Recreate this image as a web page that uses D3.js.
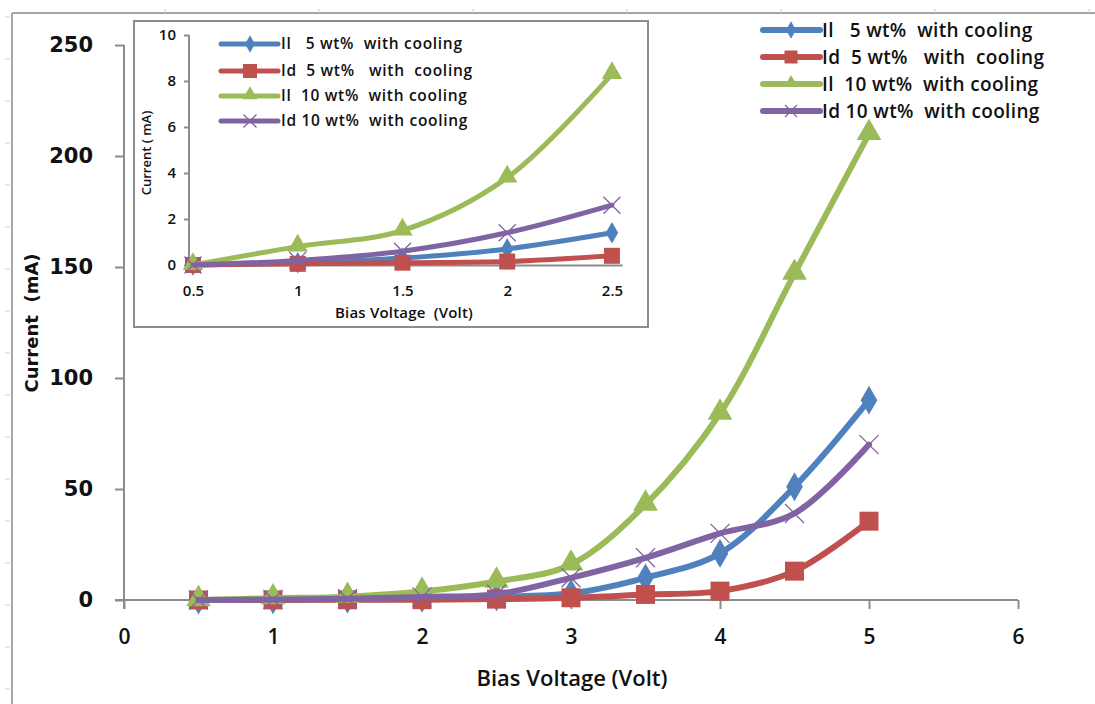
<!DOCTYPE html>
<html>
<head>
<meta charset="utf-8">
<script src="https://cdn.jsdelivr.net/npm/d3@7"></script>
<style>
  body { margin: 0; background: #fff; }
  svg { display: block; }
  text { white-space: pre; }
</style>
</head>
<body>
<svg id="chart" width="1095" height="704"></svg>
<script>
// bias voltage (Volt)
var voltage = [0.5, 1, 1.5, 2, 2.5, 3, 3.5, 4, 4.5, 5];
// currents in mA
var il5  = [0, 0.1, 0.3, 0.7, 1.4, 3, 10, 21, 51, 90];
var id5  = [0, 0.05, 0.1, 0.15, 0.4, 1, 2.5, 4, 13, 35.5];
var il10 = [0, 0.8, 1.5, 3.8, 8.3, 16, 43, 84, 147, 210];
var id10 = [0, 0.2, 0.6, 1.4, 2.6, 10, 19, 30, 39, 70];

var seriesNames = ["Il   5 wt%  with cooling", "Id  5 wt%   with  cooling", "Il  10 wt%  with cooling", "Id 10 wt%  with cooling"];
var seriesColors = ["#4f81bd", "#c0504d", "#9bbb59", "#8064a2"];
var seriesMarkers = ["diamond", "square", "triangle", "x"];
var seriesValues = [il5, id5, il10, id10];

var mainXTicks = [0, 1, 2, 3, 4, 5, 6];
var mainYTicks = [0, 50, 100, 150, 200, 250];
var insetXTicks = [0.5, 1, 1.5, 2, 2.5];
var insetYTicks = [0, 2, 4, 6, 8, 10];

var svg = d3.select("#chart");
var axisColor = "#8c8c8c";
var fmt = d3.format("~g");

// sheet frame
svg.append("line").attr("x1", 12).attr("x2", 1095).attr("y1", 13).attr("y2", 13)
    .attr("stroke", "#a6a6a6").attr("stroke-width", 2);
svg.append("line").attr("x1", 12).attr("x2", 12).attr("y1", 13).attr("y2", 704)
    .attr("stroke", "#a6a6a6").attr("stroke-width", 2);
d3.range(165, 1095, 154).forEach(function(x) {
  svg.append("line").attr("x1", x).attr("x2", x).attr("y1", 9).attr("y2", 13).attr("stroke", "#ccc");
});
d3.range(17, 704, 42).forEach(function(y) {
  svg.append("line").attr("x1", 5).attr("x2", 10).attr("y1", y).attr("y2", y).attr("stroke", "#ccc");
});

function marker(g, type, cx, cy, s, color) {
  if (type == "x") {
    g.append("path")
        .attr("d", "M" + (cx - s/2) + "," + (cy - s/2) + "L" + (cx + s/2) + "," + (cy + s/2) +
                   "M" + (cx - s/2) + "," + (cy + s/2) + "L" + (cx + s/2) + "," + (cy - s/2))
        .attr("stroke", color).attr("stroke-width", 1.3).attr("fill", "none");
    return;
  }
  var sym = type == "diamond" ? d3.symbolDiamond : type == "square" ? d3.symbolSquare : d3.symbolTriangle;
  var area = type == "square" ? s * s : type == "diamond" ? s * s * 0.6 : s * s * 0.5;
  g.append("path")
      .attr("d", d3.symbol().type(sym).size(area)())
      .attr("transform", "translate(" + cx + "," + cy + ")" + (type == "triangle" ? " translate(0,-1)" : ""))
      .attr("fill", color);
}

function drawSeries(g, x, y, n, lineW, markSize) {
  seriesValues.forEach(function(vals, i) {
    var pts = voltage.slice(0, n).map(function(v, j) { return [x(v), y(vals[j])]; });
    var line = d3.line().curve(d3.curveCatmullRom.alpha(0.5));
    g.append("path").attr("d", line(pts))
        .attr("fill", "none").attr("stroke", seriesColors[i])
        .attr("stroke-width", lineW).attr("stroke-linecap", "round");
    pts.forEach(function(p) {
      marker(g, seriesMarkers[i], p[0], p[1], markSize[i], seriesColors[i]);
    });
  });
}

// ---- main chart ----
var x = d3.scaleLinear().domain([0, 6]).range([124, 1018]);
var y = d3.scaleLinear().domain([0, 250]).range([600, 45]);

var xAxis = svg.append("g").attr("transform", "translate(0,600)")
    .call(d3.axisBottom(x).tickValues(mainXTicks).tickFormat(fmt).tickSize(9).tickSizeOuter(0).tickPadding(20));
xAxis.select(".domain").attr("d", "M115,0H1018");
var yAxis = svg.append("g").attr("transform", "translate(124,0)")
    .call(d3.axisLeft(y).tickValues(mainYTicks).tickFormat(fmt).tickSize(9).tickSizeOuter(0).tickPadding(22));
yAxis.select(".domain").attr("d", "M0,45V609");
[xAxis, yAxis].forEach(function(a) {
  a.selectAll("line, .domain").attr("stroke", axisColor).attr("stroke-width", 2);
});
xAxis.selectAll("text").attr("font-family", "Open Sans").attr("font-weight", 600)
    .attr("font-size", 21).attr("fill", "#111");
yAxis.selectAll("text").attr("font-family", "DejaVu Sans").attr("font-weight", "bold")
    .attr("font-size", 21).attr("fill", "#111");

svg.append("text").attr("x", 572).attr("y", 686).attr("text-anchor", "middle")
    .attr("font-family", "Open Sans").attr("font-weight", 600).attr("font-size", 22)
    .attr("fill", "#111").text("Bias Voltage (Volt)");
svg.append("text").attr("transform", "translate(38,323) rotate(-90)").attr("text-anchor", "middle")
    .attr("font-family", "DejaVu Sans").attr("font-weight", "bold").attr("font-size", 18)
    .attr("fill", "#111").text("Current  (mA)");

drawSeries(svg.append("g"), x, y, voltage.length, 6, [20, 19, 23, 19]);

// main legend
seriesNames.forEach(function(name, i) {
  var ly = [30, 57, 84, 111][i];
  var lg = svg.append("g");
  lg.append("line").attr("x1", 763).attr("x2", 820).attr("y1", ly).attr("y2", ly)
      .attr("stroke", seriesColors[i]).attr("stroke-width", 6).attr("stroke-linecap", "round");
  marker(lg, seriesMarkers[i], 791, ly, [12, 13, 13, 12][i], seriesColors[i]);
  lg.append("text").attr("x", 822).attr("y", ly + 7)
      .attr("font-family", "Open Sans").attr("font-weight", 600).attr("font-size", 19)
      .attr("letter-spacing", 0.35).attr("fill", "#111").text(name);
});

// ---- inset ----
var inset = svg.append("g");
inset.append("rect").attr("x", 134).attr("y", 21).attr("width", 514).attr("height", 306)
    .attr("fill", "#fff").attr("stroke", axisColor).attr("stroke-width", 2);

var ix = d3.scaleLinear().domain([0.481, 2.548]).range([189, 622]);
var iy = d3.scaleLinear().domain([0, 10]).range([265, 35]);

var ixAxis = inset.append("g").attr("transform", "translate(0,265)")
    .call(d3.axisBottom(ix).tickValues(insetXTicks).tickFormat(fmt).tickSize(0).tickSizeOuter(0).tickPadding(20));
var iyAxis = inset.append("g").attr("transform", "translate(189,0)")
    .call(d3.axisLeft(iy).tickValues(insetYTicks).tickFormat(fmt).tickSize(5).tickSizeOuter(0).tickPadding(8));
iyAxis.select(".domain").attr("d", "M0,35V265");
[ixAxis, iyAxis].forEach(function(a) {
  a.selectAll("line, .domain").attr("stroke", axisColor).attr("stroke-width", 2);
  a.selectAll("text").attr("font-family", "Open Sans").attr("font-weight", 600)
      .attr("font-size", 15).attr("fill", "#111");
});

inset.append("text").attr("x", 404).attr("y", 318).attr("text-anchor", "middle")
    .attr("font-family", "Open Sans").attr("font-weight", 600).attr("font-size", 15)
    .attr("letter-spacing", 0.2).attr("fill", "#111").text("Bias Voltage  (Volt)");
inset.append("text").attr("transform", "translate(151,153) rotate(-90)").attr("text-anchor", "middle")
    .attr("font-family", "Open Sans").attr("font-weight", 600).attr("font-size", 13)
    .attr("fill", "#111").text("Current ( mA)");

drawSeries(inset.append("g"), ix, iy, 5, 5, [15, 16, 19, 17]);

seriesNames.forEach(function(name, i) {
  var ly = [44, 71, 96, 121][i];
  var lg = inset.append("g");
  lg.append("line").attr("x1", 221).attr("x2", 278).attr("y1", ly).attr("y2", ly)
      .attr("stroke", seriesColors[i]).attr("stroke-width", 5).attr("stroke-linecap", "round");
  marker(lg, seriesMarkers[i], 250, ly, [12, 14, 14, 13][i], seriesColors[i]);
  lg.append("text").attr("x", 281).attr("y", ly + 5)
      .attr("font-family", "Open Sans").attr("font-weight", 600).attr("font-size", 15.5)
      .attr("letter-spacing", 0.7).attr("fill", "#111").text(name);
});
</script>
</body>
</html>
